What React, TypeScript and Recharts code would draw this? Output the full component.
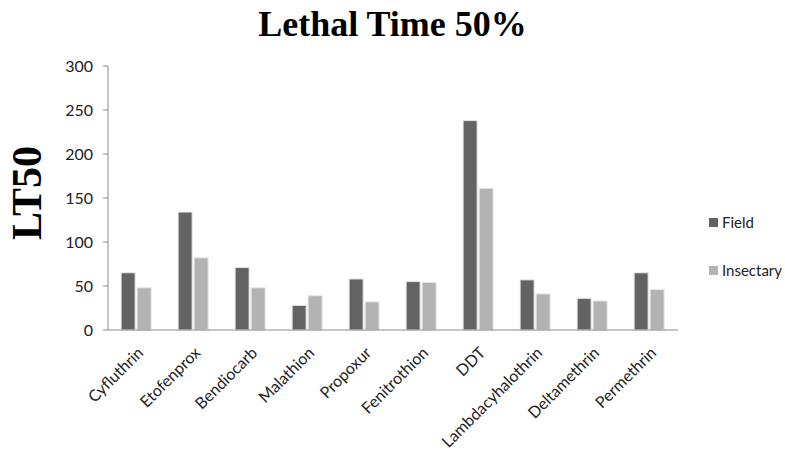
import { BarChart, Bar, XAxis, YAxis } from 'recharts'

const categories = [
  'Cyfluthrin',
  'Etofenprox',
  'Bendiocarb',
  'Malathion',
  'Propoxur',
  'Fenitrothion',
  'DDT',
  'Lambdacyhalothrin',
  'Deltamethrin',
  'Permethrin',
]
const fieldValues = [65, 134, 71, 28, 58, 55, 238, 57, 36, 65]
const insectaryValues = [48, 82, 48, 39, 32, 54, 161, 41, 33, 46]
const yTicks = [0, 50, 100, 150, 200, 250, 300]

const data = categories.map((name, i) => ({
  name,
  Field: fieldValues[i],
  Insectary: insectaryValues[i],
}))

const labelFont = 'Lato, "Open Sans", sans-serif'

// x tick: rotated -45, text ends just right of the tick
function AngledTick(props: any) {
  const { x, y, payload } = props
  return (
    <g transform={`translate(${x + 5},${y + 13})`}>
      <text
        x={0}
        y={0}
        dy={4}
        textAnchor="end"
        transform="rotate(-45)"
        fill="#222"
        fontSize={16}
        fontFamily={labelFont}
      >
        {payload.value}
      </text>
    </g>
  )
}

function LegendBox() {
  const items = [
    { label: 'Field', color: '#636363' },
    { label: 'Insectary', color: '#b3b3b3' },
  ]
  return (
    <div
      style={{
        position: 'absolute',
        left: 709,
        top: 198,
        fontFamily: labelFont,
        fontSize: 15,
        color: '#222',
      }}
    >
      {items.map((it) => (
        <div key={it.label} style={{ display: 'flex', alignItems: 'center', height: 48 }}>
          <span
            style={{
              display: 'inline-block',
              width: 9,
              height: 9,
              background: it.color,
              marginRight: 4,
            }}
          />
          {it.label}
        </div>
      ))}
    </div>
  )
}

export default function App() {
  return (
    <div style={{ position: 'absolute', left: 0, top: 0, width: 785, height: 458, background: '#fff' }}>
      <div
        style={{
          position: 'absolute',
          left: 0,
          top: 2,
          width: 785,
          textAlign: 'center',
          fontFamily: '"Liberation Serif", "Times New Roman", serif',
          fontWeight: 'bold',
          fontSize: 36,
          lineHeight: '44px',
          color: '#000',
        }}
      >
        Lethal Time 50%
      </div>
      <div
        style={{
          position: 'absolute',
          left: 27,
          top: 193,
          transform: 'translate(-50%, -50%) rotate(-90deg)',
          fontFamily: '"Liberation Serif", "Times New Roman", serif',
          fontWeight: 'bold',
          fontSize: 42,
          lineHeight: '42px',
          whiteSpace: 'nowrap',
          color: '#000',
        }}
      >
        LT50
      </div>
      <BarChart
        width={785}
        height={458}
        data={data}
        margin={{ top: 66, right: 107, bottom: 0, left: 58 }}
        barCategoryGap="23%"
        barGap={2}
      >
        <XAxis
          dataKey="name"
          interval={0}
          tick={<AngledTick />}
          tickLine={false}
          axisLine={{ stroke: '#8c8c8c' }}
          height={128}
        />
        <YAxis
          domain={[0, 300]}
          ticks={yTicks}
          width={50}
          tickLine={{ stroke: '#8c8c8c' }}
          tickSize={5}
          tickMargin={10}
          axisLine={{ stroke: '#8c8c8c' }}
          tick={{ fill: '#222', fontSize: 16, fontFamily: labelFont }}
        />
        <Bar dataKey="Field" fill="#636363" stroke="#e6e6e6" strokeWidth={1} isAnimationActive={false} />
        <Bar dataKey="Insectary" fill="#b3b3b3" stroke="#e6e6e6" strokeWidth={1} isAnimationActive={false} />
      </BarChart>
      <LegendBox />
    </div>
  )
}
